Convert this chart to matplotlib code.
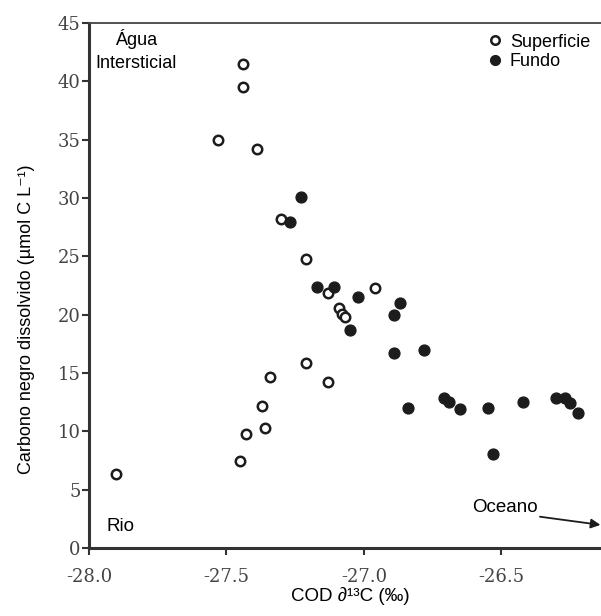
import numpy as np
import matplotlib.pyplot as plt

# superficie (open) and fundo (filled) samples
sup_x = [-27.90, -27.45, -27.43, -27.37, -27.36, -27.34, -27.21, -27.13,
         -27.44, -27.44, -27.53, -27.39, -27.30, -27.21, -27.13, -26.96,
         -27.09, -27.08, -27.07]
sup_y = [6.4, 7.5, 9.8, 12.2, 10.3, 14.7, 15.9, 14.2,
         41.5, 39.5, 35.0, 34.2, 28.2, 24.8, 21.9, 22.3,
         20.6, 20.1, 19.8]

fun_x = [-27.23, -27.27, -27.17, -27.11, -27.02, -26.87, -26.89, -27.05,
         -26.89, -26.78, -26.84, -26.71, -26.69, -26.65, -26.55, -26.53,
         -26.42, -26.30, -26.27, -26.25, -26.22]
fun_y = [30.1, 27.9, 22.4, 22.4, 21.5, 21.0, 20.0, 18.7,
         16.7, 17.0, 12.0, 12.9, 12.5, 11.9, 12.0, 8.1,
         12.5, 12.9, 12.9, 12.4, 11.6]

xticks = [-28.0, -27.5, -27.0, -26.5]
yticks = [0, 5, 10, 15, 20, 25, 30, 35, 40, 45]

plt.rcParams['font.family'] = ['Liberation Sans', 'DejaVu Sans']
fig = plt.figure(figsize=(6.01, 6.16), dpi=100)
ax = fig.add_axes([0.148, 0.110, 0.852, 0.853])

col = '#1c1c1c'
ax.plot(sup_x, sup_y, 'o', ls='none', ms=6.8, mfc='white', mec=col, mew=1.8,
        label='Superficie')
ax.plot(fun_x, fun_y, 'o', ls='none', ms=7.8, mfc=col, mec=col, mew=1.0,
        label='Fundo')

ax.set_xlim(-28.0, -26.138)
ax.set_ylim(0, 45)
ax.set_xticks(xticks)
ax.set_xticklabels(['%.1f' % v for v in xticks])
ax.set_yticks(yticks)
ax.set_yticklabels([str(v) for v in yticks])
for lab in ax.get_xticklabels() + ax.get_yticklabels():
    lab.set_fontfamily('DejaVu Serif')
    lab.set_fontsize(13)
    lab.set_color('#444444')
ax.tick_params(direction='out', length=5, width=1.5, color='#333333')
ax.tick_params(axis='x', pad=9)
ax.tick_params(axis='y', pad=1)

for s in ['left', 'bottom']:
    ax.spines[s].set_linewidth(2.2)
    ax.spines[s].set_color('#333333')
ax.spines['top'].set_linewidth(1.3)
ax.spines['top'].set_color('#444444')
ax.spines['right'].set_visible(False)

ax.set_xlabel('COD \u2202\u00b9\u00b3C (\u2030)', fontsize=13.5)
ax.set_ylabel('Carbono negro dissolvido (\u00b5mol C L\u207b\u00b9)', fontsize=13)
ax.xaxis.set_label_coords(0.51, -0.074)
ax.yaxis.set_label_coords(-0.105, 0.436)

ax.text(-27.83, 44.5, '\u00c1gua', ha='center', va='top', fontsize=13)
ax.text(-27.83, 42.2, 'Intersticial', ha='center', va='top', fontsize=13)
ax.text(-27.935, 1.5, 'Rio', ha='left', va='baseline', fontsize=13.5)
ax.text(-26.607, 3.1, 'Oceano', ha='left', va='baseline', fontsize=13.5)
ax.annotate('', xy=(-26.14, 2.0), xytext=(-26.36, 2.7),
            arrowprops=dict(arrowstyle='-|>', color=col, lw=1.3,
                            mutation_scale=14, shrinkA=0, shrinkB=0),
            annotation_clip=False)

ax.legend(loc='upper right', bbox_to_anchor=(1.0, 1.0), frameon=False,
          fontsize=13, handletextpad=0.3, labelspacing=0.15, borderaxespad=0.2,
          handlelength=1.0, markerscale=0.9)

plt.savefig('out.png', dpi=100)
